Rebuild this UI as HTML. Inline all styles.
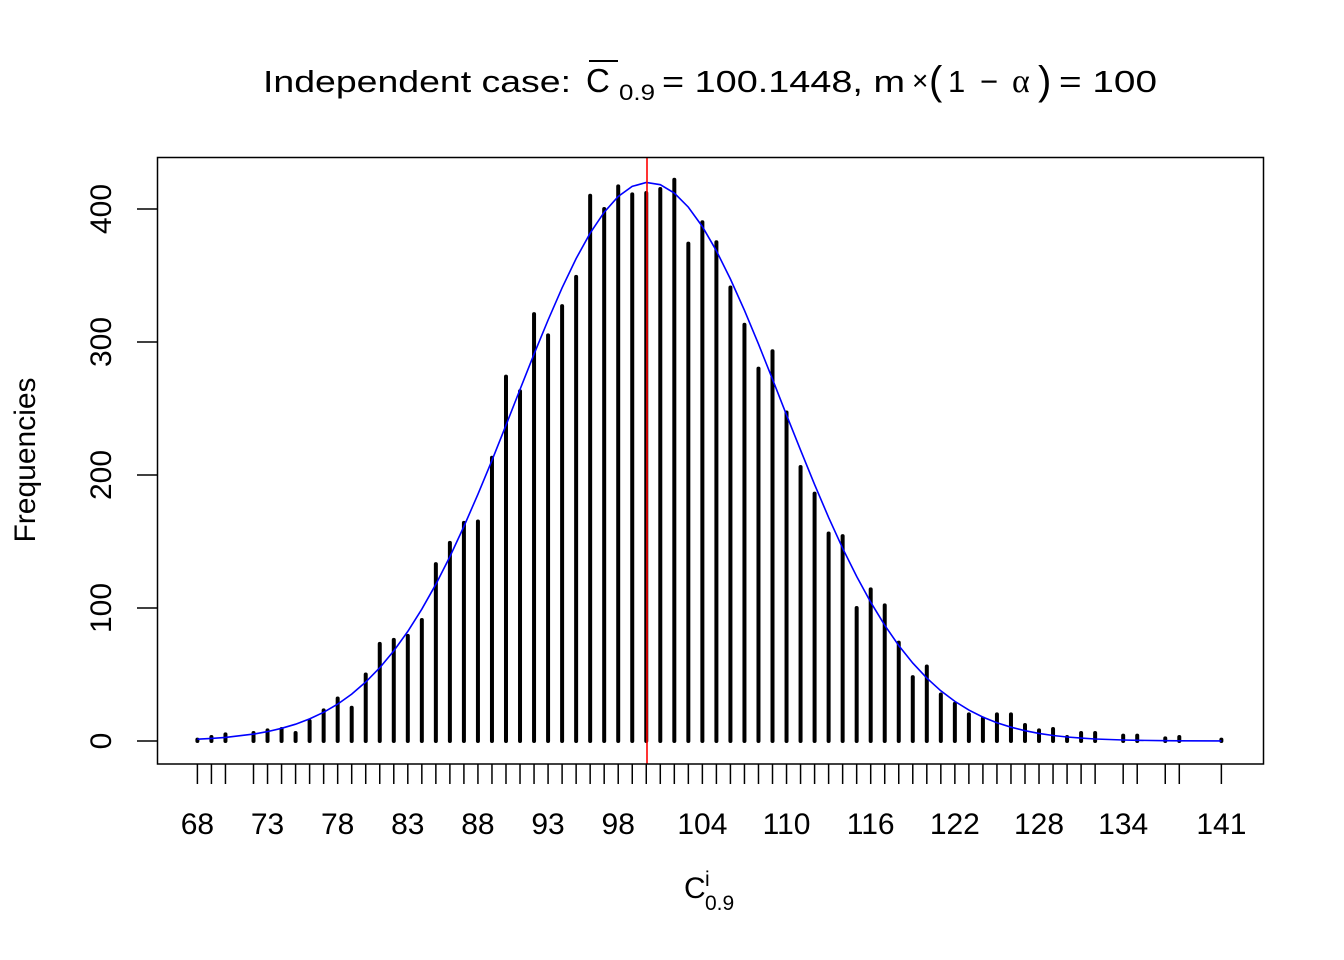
<!DOCTYPE html>
<html><head><meta charset="utf-8"><style>
html,body{margin:0;padding:0;background:#fff}
svg{display:block;font-family:"Liberation Sans",Arial,sans-serif}
</style></head><body>
<svg id="s" width="1344" height="960" viewBox="0 0 1344 960" xmlns="http://www.w3.org/2000/svg">
<rect width="1344" height="960" fill="#fff"/>
<g id="bars" stroke="#000" stroke-width="4" stroke-linecap="round"></g>
<g id="ticks" stroke="#000" stroke-width="1.5"></g>
<polyline id="curve" fill="none" stroke="#0000ff" stroke-width="1.6"/>
<line x1="647" y1="157" x2="647" y2="764" stroke="#ff0000" stroke-width="1.6"/>
<rect x="157.5" y="157.5" width="1106" height="606.5" fill="none" stroke="#000" stroke-width="1.5"/>
<g id="ylab" font-size="30" text-anchor="middle"></g>
<g font-size="30" text-anchor="middle" id="xlab"></g>
<text x="0" y="0" font-size="30" text-anchor="middle" transform="translate(35,460) rotate(-90)">Frequencies</text>
<text x="684" y="898" font-size="30">C</text>
<text x="705" y="886" font-size="21">i</text>
<text x="705" y="910" font-size="21">0.9</text>
<g font-size="31">
<text x="263" y="92" textLength="308" lengthAdjust="spacingAndGlyphs">Independent case:</text>
<text x="586" y="92" font-size="33">C</text>
<line x1="589" y1="61" x2="618" y2="61" stroke="#000" stroke-width="2"/>
<text x="619" y="100" font-size="22" textLength="36" lengthAdjust="spacingAndGlyphs">0.9</text>
<text x="662" y="92" textLength="243" lengthAdjust="spacingAndGlyphs">= 100.1448, m</text>
<text x="912" y="90" font-size="28">×</text>
<text x="929" y="94" font-size="40">(</text>
<text x="948" y="92">1</text>
<text x="980" y="92">−</text>
<text x="1012" y="92" font-size="34" font-family="Liberation Serif">α</text>
<text x="1038" y="94" font-size="40">)</text>
<text x="1059" y="92" textLength="98" lengthAdjust="spacingAndGlyphs">= 100</text>
</g>
</svg>
<script>
var d={68:1,69:3,70:5,72:6,73:8,74:9,75:6,76:15,77:23,78:32,79:25,80:50,81:73,82:76,83:79,84:91,85:133,86:149,87:164,88:165,89:213,90:274,91:263,92:321,93:305,94:327,95:349,96:410,97:400,98:417,99:411,100:412,101:415,102:422,103:374,104:390,105:375,106:341,107:313,108:280,109:293,110:247,111:206,112:186,113:156,114:154,115:100,116:114,117:102,118:74,119:48,120:56,121:35,122:28,123:20,124:17,125:20,126:20,127:12,128:8,129:9,130:3,131:6,132:6,134:4,135:4,137:2,138:3,141:1};
var NS="http://www.w3.org/2000/svg";
function X(v){return 197.4+(v-68)*14.027}
function Y(v){return 741-v*1.33}
var bars=document.getElementById("bars"),ticks=document.getElementById("ticks"),pts=[];
function ln(g,a,b,c,e){var l=document.createElementNS(NS,"line");l.setAttribute("x1",a);l.setAttribute("y1",b);l.setAttribute("x2",c);l.setAttribute("y2",e);g.appendChild(l);}
for(var k in d){var v=+k,x=X(v);ln(bars,x,741,x,Y(d[k]));ln(ticks,x,764,x,784);
pts.push(x.toFixed(1)+","+Y(420*Math.exp(-Math.pow(v-100.1448,2)/(2*9.5*9.5))).toFixed(1));}
document.getElementById("curve").setAttribute("points",pts.join(" "));
var yl=document.getElementById("ylab");
for(var i=0;i<=400;i+=100){ln(ticks,137,Y(i),157,Y(i));var t=document.createElementNS(NS,"text");t.setAttribute("transform","translate(111,"+Y(i)+") rotate(-90)");t.textContent=i;yl.appendChild(t);}
var xl=document.getElementById("xlab");
[68,73,78,83,88,93,98,104,110,116,122,128,134,141].forEach(function(v){var t=document.createElementNS(NS,"text");t.setAttribute("x",X(v));t.setAttribute("y",834);t.textContent=v;xl.appendChild(t);});
</script>
</body></html>
